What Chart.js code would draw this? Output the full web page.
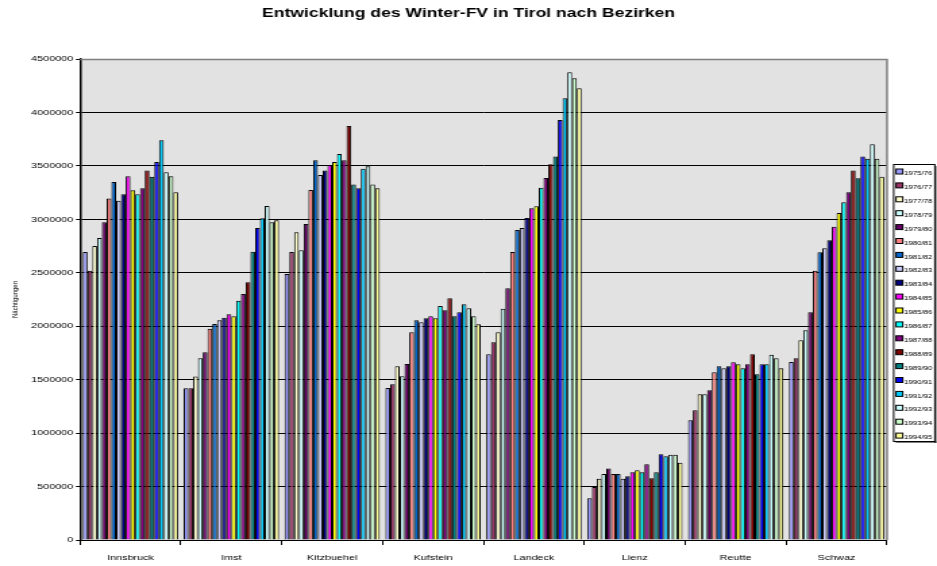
<!DOCTYPE html>
<html><head><meta charset="utf-8">
<script src="https://cdn.jsdelivr.net/npm/chart.js@4/dist/chart.umd.min.js"></script>
<style>
html,body{margin:0;padding:0;background:#fff;overflow:hidden}
#wrap{width:694px;height:566px;transform:scaleX(1.3502);transform-origin:0 0}
canvas{display:block}
</style></head>
<body><div id="wrap"><canvas id="c" width="694" height="566" style="width:694px;height:566px"></canvas></div>
<script>
const categories = ['Innsbruck','Imst','Kitzbuehel','Kufstein','Landeck','Lienz','Reutte','Schwaz'];
const seasons = ['1975/76','1976/77','1977/78','1978/79','1979/80','1980/81','1981/82','1982/83','1983/84','1984/85',
                 '1985/86','1986/87','1987/88','1988/89','1989/90','1990/91','1991/92','1992/93','1993/94','1994/95'];
const yTicks = [0,500000,1000000,1500000,2000000,2500000,3000000,3500000,4000000,4500000];

const innsbruck  = [2694000,2519000,2750000,2825000,2972000,3196000,3349000,3174000,3234000,3402000,3271000,3234000,3290000,3458000,3399000,3536000,3739000,3440000,3402000,3253000];
const imst       = [1419000,1419000,1530000,1700000,1756000,1977000,2021000,2055000,2080000,2111000,2093000,2239000,2301000,2411000,2697000,2919000,3009000,3125000,2972000,2991000];
const kitzbuehel = [2488000,2694000,2878000,2710000,2956000,3274000,3552000,3415000,3458000,3508000,3536000,3611000,3552000,3873000,3327000,3290000,3474000,3496000,3327000,3290000];
const kufstein   = [1422000,1456000,1625000,1531000,1646000,1943000,2055000,2037000,2074000,2093000,2074000,2189000,2149000,2261000,2093000,2130000,2205000,2168000,2093000,2018000];
const landeck    = [1737000,1849000,1943000,2164000,2355000,2694000,2900000,2919000,3012000,3103000,3122000,3296000,3387000,3515000,3589000,3929000,4132000,4375000,4319000,4226000];
const lienz      = [390000,496000,574000,617000,670000,617000,617000,574000,596000,633000,652000,633000,708000,577000,633000,802000,783000,798000,798000,723000];
const reutte     = [1120000,1213000,1363000,1363000,1400000,1569000,1625000,1606000,1625000,1662000,1644000,1606000,1644000,1737000,1550000,1644000,1644000,1733000,1700000,1606000];
const schwaz     = [1665000,1700000,1868000,1962000,2130000,2519000,2691000,2729000,2804000,2931000,3059000,3159000,3253000,3458000,3384000,3589000,3567000,3702000,3567000,3399000];

const seasonColors = ['#9999FF','#993366','#FFFFCC','#CCFFFF','#660066','#FF8080','#0066CC','#CCCCFF','#000080','#FF00FF',
                      '#FFFF00','#00FFFF','#800080','#800000','#008080','#0000FF','#00CCFF','#CCFFFF','#CCFFCC','#FFFF99'];

const districtValues = [innsbruck, imst, kitzbuehel, kufstein, landeck, lienz, reutte, schwaz];
const datasets = seasons.map((s, i) => ({
  label: s,
  data: districtValues.map(d => d[i]),
  backgroundColor: seasonColors[i],
  borderColor: '#000',
  borderWidth: 1,
  borderSkipped: 'bottom',
  categoryPercentage: 0.945,
  barPercentage: 1.0
}));

const S = 1.3502;
const FONT = "'Liberation Sans', Arial, sans-serif";

const decor = {
  id: 'decor',
  beforeDraw(chart) {
    const ctx = chart.ctx, a = chart.chartArea;
    ctx.save();
    ctx.fillStyle = '#fff';
    ctx.fillRect(0, 0, chart.width, chart.height);
    ctx.fillStyle = '#E2E2E2';
    ctx.fillRect(a.left, a.top, a.right - a.left, a.bottom - a.top);
    ctx.restore();
  },
  afterDraw(chart) {
    const ctx = chart.ctx, a = chart.chartArea;
    ctx.save();
    ctx.strokeStyle = '#808080';
    ctx.lineWidth = 1.5;
    ctx.beginPath();
    ctx.moveTo(a.left, a.top + 0.5);
    ctx.lineTo(a.right, a.top + 0.5);
    ctx.lineTo(a.right, a.bottom);
    ctx.stroke();
    // legend
    const lx0 = 893 / S, lx1 = 935.5 / S, ly0 = 164, ly1 = 441;
    ctx.fillStyle = '#fff';
    ctx.fillRect(lx0, ly0, lx1 - lx0, ly1 - ly0);
    ctx.strokeStyle = '#000';
    ctx.lineWidth = 1;
    ctx.strokeRect(lx0 + 0.5, ly0 + 0.5, lx1 - lx0 - 1, ly1 - ly0);
    ctx.fillStyle = '#000';
    ctx.fillRect(lx1 - 0.5, ly0 + 2, 1, ly1 - ly0);
    ctx.fillRect(lx0 + 2, ly1 + 0.5, lx1 - lx0 - 1.5, 1);
    ctx.font = '5.8px ' + FONT;
    ctx.textBaseline = 'middle';
    ctx.textAlign = 'left';
    chart.data.datasets.forEach((ds, i) => {
      const y = 172 + i * 13.9;
      ctx.fillStyle = ds.backgroundColor;
      ctx.fillRect(896 / S, y - 3, 5, 5);
      ctx.strokeStyle = '#000';
      ctx.lineWidth = 1;
      ctx.strokeRect(896 / S, y - 3, 5, 5);
      ctx.fillStyle = '#000';
      ctx.fillText(ds.label, 904 / S, y + 1.5);
    });
    ctx.restore();
  }
};

new Chart(document.getElementById('c'), {
  type: 'bar',
  data: { labels: categories, datasets },
  options: {
    responsive: false,
    animation: false,
    devicePixelRatio: 1,
    layout: { padding: 0 },
    plugins: {
      legend: { display: false },
      tooltip: { enabled: false },
      title: {
        display: true,
        text: 'Entwicklung des Winter-FV in Tirol nach Bezirken',
        color: '#000',
        font: { family: FONT, size: 13, weight: 'bold', lineHeight: 1.2 },
        padding: { top: 6, bottom: 37.4 }
      }
    },
    scales: {
      x: {
        afterFit(scale) { scale.height = 26; },
        grid: { display: true, drawOnChartArea: false, offset: true, drawTicks: true, tickLength: 5, color: '#000', lineWidth: 1 },
        border: { display: true, color: '#000', width: 1 },
        ticks: { color: '#000', font: { family: FONT, size: 8 }, padding: 8, maxRotation: 0, autoSkip: false }
      },
      y: {
        min: 0, max: 4500000,
        afterFit(scale) { scale.width = 80 / S; },
        afterBuildTicks(scale) { scale.ticks = yTicks.map(v => ({ value: v })); },
        grid: { color: '#000', lineWidth: 1, drawTicks: true, tickLength: 3 },
        border: { display: true, color: '#000', width: 1.5 },
        ticks: { color: '#000', font: { family: FONT, size: 8 }, padding: 2, callback: v => String(v) },
        title: { display: true, text: 'Nächtigungen', color: '#000', font: { family: FONT, size: 6 }, padding: { top: 8, bottom: 0 } }
      },
      yRight: {
        position: 'right',
        min: 0, max: 1,
        afterFit(scale) { scale.width = 694 - 887 / S; },
        grid: { display: false, drawTicks: false },
        border: { display: false },
        ticks: { display: false }
      }
    }
  },
  plugins: [decor]
});
</script>
</body></html>
